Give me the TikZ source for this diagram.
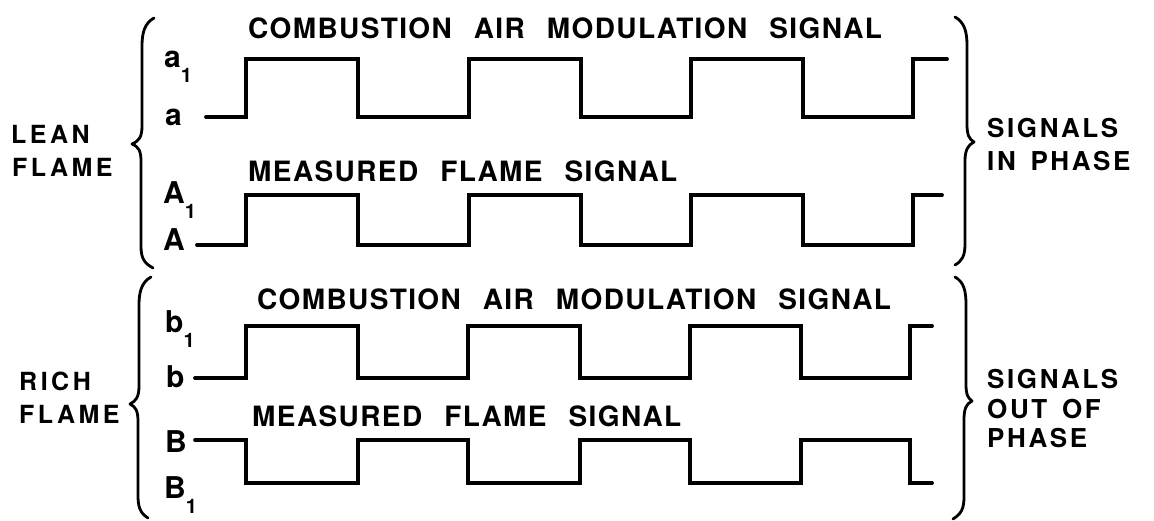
\documentclass[tikz,border=0pt]{standalone}
\usepackage{fontspec}
\setmainfont{TeX Gyre Heros}
\newfontfamily\titleface{TeX Gyre Heros}[LetterSpace=5,WordSpace=2.4]
\newfontfamily\leftface{TeX Gyre Heros}[LetterSpace=14]
\newfontfamily\rightface{TeX Gyre Heros}[LetterSpace=10,WordSpace=1.5]
\newfontfamily\lblface{TeX Gyre Heros}
\newcommand\titlefont{\titleface\bfseries\fontsize{28}{30}\selectfont}
\newcommand\leftfont{\leftface\bfseries\fontsize{25}{30}\selectfont}
\newcommand\rightfont{\rightface\bfseries\fontsize{26}{30}\selectfont}
\newcommand\lblfont{\lblface\bfseries\fontsize{30}{32}\selectfont}
\newcommand\sbs[1]{\raisebox{-0.5em}{\fontsize{20}{20}\selectfont #1}}
\tikzset{
  sig/.style={line width=3.8pt, line join=miter, line cap=round},
  bracestroke/.style={line width=2.8pt, line cap=round, line join=round},
  title/.style={anchor=base west, inner sep=0pt, font=\titlefont},
  sidetext/.style={anchor=base west, inner sep=0pt, font=\leftfont},
  righttext/.style={anchor=base west, inner sep=0pt, font=\rightfont},
  lbl/.style={anchor=base west, inner sep=0pt, font=\lblfont},
}
\begin{document}
\begin{tikzpicture}[x=1pt,y=-1pt]
\useasboundingbox (0,0) rectangle (1154,520);
\fill[white] (0,0) rectangle (1154,520);

% titles
\node[title] (t1) at (248,38) {COMBUSTION AIR MODULATION SIGNAL};
\node[title] (m1) at (248,181) {MEASURED FLAME SIGNAL};
\node[title] (t2) at (257,309) {COMBUSTION AIR MODULATION SIGNAL};
\node[title] (m2) at (252,426) {MEASURED FLAME SIGNAL};

% left group labels
\node[sidetext] (lean) at (11,143) {LEAN};
\node[sidetext] (leanf) at (12,176) {FLAME};
\node[sidetext] (rich) at (19,390) {RICH};
\node[sidetext] (richf) at (19,423) {FLAME};

% right group labels
\node[righttext] (s1) at (987,137) {SIGNALS};
\node[righttext] (s1b) at (987,170) {IN PHASE};
\node[righttext] (s2) at (987,388) {SIGNALS};
\node[righttext] (s2b) at (987,418) {OUT OF};
\node[righttext] (s2c) at (987,447) {PHASE};

% level labels
\node[lbl] (la1) at (164,67) {a\sbs{1}};
\node[lbl] (la)  at (165,125) {a};
\node[lbl] (lA1) at (163,203) {A\sbs{1}};
\node[lbl] (lA)  at (163,250) {A};
\node[lbl] (lb1) at (165,332) {b\sbs{1}};
\node[lbl] (lb)  at (166,387) {b};
\node[lbl] (lB)  at (165,452) {B};
\node[lbl] (lB1) at (164,498) {B\sbs{1}};

% signals
\draw[sig] (206,117) -- (246,117) -- (246,59) -- (358,59) -- (358,117) -- (469,117) -- (469,59) -- (581,59) -- (581,117) -- (691,117) -- (691,59) -- (803,59) -- (803,117) -- (913,117) -- (913,59) -- (947,59);
\draw[sig] (197,245) -- (246,245) -- (246,195) -- (358,195) -- (358,245) -- (469,245) -- (469,195) -- (581,195) -- (581,245) -- (691,245) -- (691,195) -- (803,195) -- (803,245) -- (913,245) -- (913,195) -- (942,195);
\draw[sig] (195,378) -- (246,378) -- (246,326) -- (358,326) -- (358,378) -- (468,378) -- (468,326) -- (580,326) -- (580,378) -- (690,378) -- (690,326) -- (801,326) -- (801,378) -- (910,378) -- (910,326) -- (932,326);
\draw[sig] (195,440) -- (246,440) -- (246,483) -- (358,483) -- (358,440) -- (468,440) -- (468,483) -- (580,483) -- (580,440) -- (690,440) -- (690,483) -- (801,483) -- (801,440) -- (910,440) -- (910,483) -- (932,483);

% left braces
\draw[bracestroke] (154,18) .. controls (145,23) and (142,32) .. (142,46) -- (142,126)
  .. controls (142,137) and (139,141) .. (132,144)
  .. controls (139,147) and (141,151) .. (141,162) -- (141,246)
  .. controls (141,258) and (144,263) .. (153,268);
\draw[bracestroke] (151,277) .. controls (142,282) and (139,291) .. (139,305) -- (139,386)
  .. controls (139,397) and (136,401) .. (130,404)
  .. controls (136,407) and (138,411) .. (138,422) -- (138,495)
  .. controls (138,507) and (140,513) .. (148,518);

% right braces
\draw[bracestroke] (955,17) .. controls (964,22) and (967,31) .. (967,45) -- (967,124)
  .. controls (967,135) and (969,139) .. (974,142)
  .. controls (968,145) and (965,150) .. (965,161) -- (965,244)
  .. controls (965,256) and (962,261) .. (955,265);
\draw[bracestroke] (955,277) .. controls (964,282) and (966,291) .. (966,305) -- (966,384)
  .. controls (966,395) and (968,398) .. (972,401)
  .. controls (966,404) and (964,409) .. (964,420) -- (964,497)
  .. controls (964,509) and (961,514) .. (953,519);
\end{tikzpicture}
\end{document}
